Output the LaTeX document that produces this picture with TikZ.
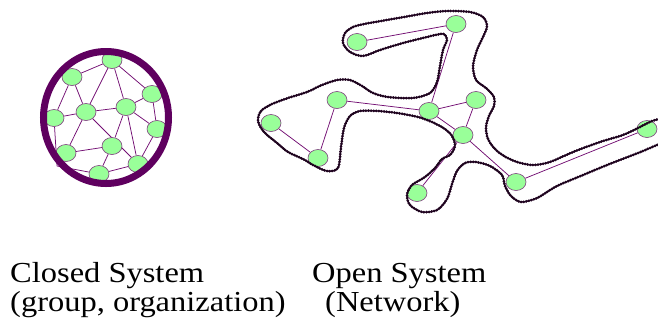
\documentclass[tikz,border=0pt]{standalone}
\usepackage{fontspec}
\setmainfont{Liberation Serif}[FakeStretch=1.12]
\usetikzlibrary{shapes.geometric}
\definecolor{nodefill}{RGB}{153,255,153}
\definecolor{nodeborder}{RGB}{125,60,125}
\definecolor{edgecol}{RGB}{115,15,115}
\definecolor{ringcol}{RGB}{95,0,95}
\definecolor{blobcol}{RGB}{70,15,70}
\definecolor{beadcol}{RGB}{30,5,30}
\pgfdeclarelayer{edgelayer}
\pgfsetlayers{edgelayer,main}
\begin{document}
\begin{tikzpicture}[x=1pt,y=-1pt,
  nd/.style={ellipse, draw=nodeborder, line width=0.6pt, fill=nodefill,
    minimum width=20pt, minimum height=17pt, inner sep=0pt},
  ed/.style={draw=edgecol, line width=0.75pt},
  ring/.style={draw=ringcol, line width=7pt},
  blob/.style={draw=blobcol, line width=1.4pt,
    postaction={draw=beadcol, line width=3pt, line cap=round, dash pattern=on 0pt off 2.6pt}},
  lbl/.style={anchor=base west, inner sep=0pt, font=\fontsize{29}{32}\selectfont}]
\useasboundingbox (0,0) rectangle (658,325);

% ---------------- Closed system ----------------
\node[nd] (c1) at (112,60) {};
\node[nd] (c2) at (72,77) {};
\node[nd] (c3) at (152,94) {};
\node[nd] (c4) at (54,118) {};
\node[nd] (c5) at (86,112) {};
\node[nd] (c6) at (126,107) {};
\node[nd] (c7) at (157,129) {};
\node[nd] (c8) at (66,153) {};
\node[nd] (c9) at (112,146) {};
\node[nd] (c10) at (138,164) {};
\node[nd] (c11) at (99,174) {};
\coordinate (ch) at (57,166);

\begin{pgfonlayer}{edgelayer}
\path[ed]
  (c1) -- (c2)  (c1) -- (c3)  (c1) -- (c5)  (c1) -- (c6)
  (c2) -- (c4)  (c2) -- (c5)  (c3) -- (c6)  (c3) -- (c7)
  (c4) -- (c5)  (c5) -- (c6)  (c5) -- (c8)  (c5) -- (c10)
  (c6) -- (c9)  (c6) -- (c10) (c6) -- (c7)  (c7) -- (c10)
  (c8) -- (c9)  (c9) -- (c11) (c10) -- (c11)
  (c4) -- (ch)  (ch) -- (c11);
\end{pgfonlayer}
\draw[ring] (106,117.5) ellipse [x radius=62.5, y radius=66];

% ---------------- Open system ----------------
\node[nd] (oA) at (357,42) {};
\node[nd] (oB) at (456,24) {};
\node[nd] (oC) at (337,100) {};
\node[nd] (oD) at (271,123) {};
\node[nd] (oE) at (318,158) {};
\node[nd] (oF) at (429,111) {};
\node[nd] (oG) at (476,100) {};
\node[nd] (oH) at (463,135) {};
\node[nd] (oI) at (417,193) {};
\node[nd] (oJ) at (516,182) {};
\node[nd] (oK) at (647,129) {};
\begin{pgfonlayer}{edgelayer}
\path[ed]
  (oA) -- (oB)  (oB) -- (oF)  (oC) -- (oF)  (oC) -- (oE)  (oD) -- (oE)
  (oF) -- (oG)  (oF) -- (oH)  (oG) -- (oH)  (oH) -- (oI)  (oH) -- (oJ)
  (oJ) -- (oK);
\end{pgfonlayer}

\begin{scope}
\clip (0,0) rectangle (658,325);
\path[blob] plot[smooth cycle, tension=0.5] coordinates {
(258,121) (261,111) (272,104) (288,98) (307,92) (322,85) (337,80) (350,80)
(362,86) (373,93) (388,97) (413,98) (430,93) (437,82) (440,66) (443,50)
(447,40) (444,34) (435,35) (427,37) (403,43) (380,50) (363,56) (350,52) (343,43)
(345,33) (353,27) (364,24) (381,21) (404,17) (427,13) (447,11) (470,12)
(483,17) (487,26) (483,37) (477,50) (473,66) (476,80) (486,88) (494,97)
(494,106) (489,116) (486,127) (488,139) (495,149) (504,156) (517,162)
(533,165) (550,162) (573,152) (600,142) (623,135) (640,127) (652,121)
(664,119) (668,130) (664,141) (650,148) (633,155) (607,165) (583,175)
(557,186) (537,198) (521,202) (511,196) (505,186) (502,175) (490,166)
(476,162) (465,163) (457,171) (452,184) (447,199) (437,210) (422,212)
(410,205) (407,195) (412,185) (425,177) (435,168) (442,159) (450,155)
(455,146) (452,136) (445,129) (432,122) (418,117) (397,113) (378,111)
(360,111) (350,116) (344,128) (341,147) (338,168) (327,171) (313,165)
(303,159) (288,152) (277,143) (264,132)};
\end{scope}

% ---------------- Labels ----------------
\node[lbl] (t1) at (10,282) {Closed System};
\node[lbl] (t2) at (10,311) {(group, organization)};
\node[lbl] (t3) at (312,282) {Open System};
\node[lbl] (t4) at (325,311) {(Network)};
\end{tikzpicture}
\end{document}
